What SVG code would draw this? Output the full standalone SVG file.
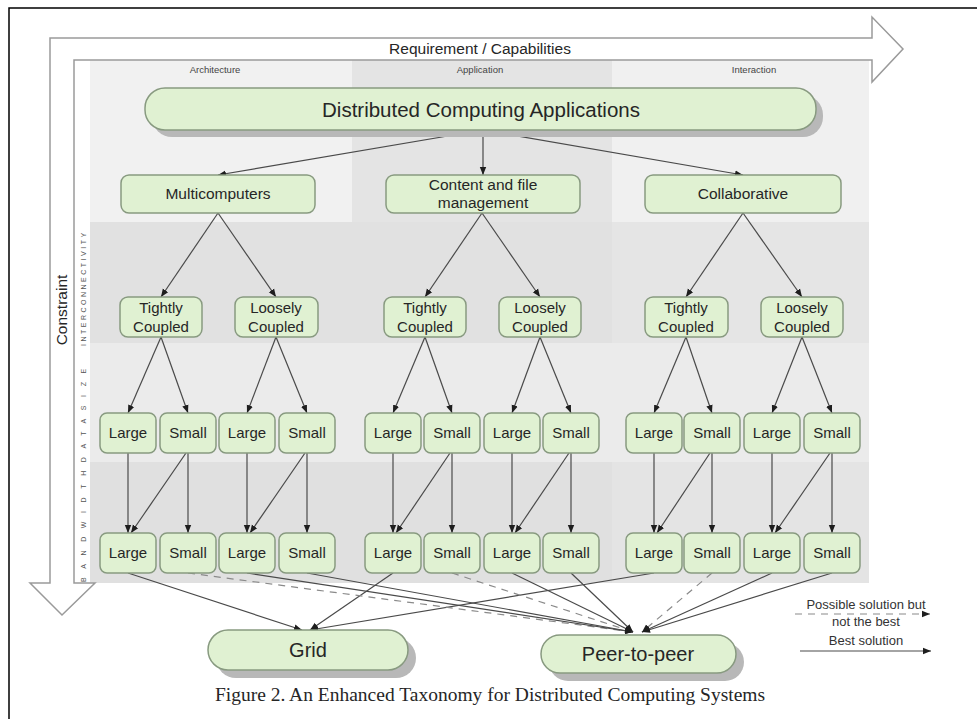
<svg xmlns="http://www.w3.org/2000/svg" width="977" height="719" viewBox="0 0 977 719">
<style>
text{font-family:"Liberation Sans",Arial,sans-serif;fill:#262626}
.nd{fill:#e0f1d2;stroke:#889a80;stroke-width:1.5}
.sh{fill:#b8b8b8}
.t16{font-size:15.5px;text-anchor:middle}
.t15{font-size:15px;text-anchor:middle}
.col{font-size:9.5px;text-anchor:middle;fill:#444}
.ln{stroke:#4a4a4a;stroke-width:1.2;fill:none;marker-end:url(#ah)}
.dl{stroke:#8a8a8a;stroke-width:1.2;fill:none;stroke-dasharray:7 6;marker-end:url(#ah)}
.ax{fill:#fff;stroke:#9a9a9a;stroke-width:1.5}
.rul{font-size:7px;fill:#555}
.lg{font-size:13px;text-anchor:middle;fill:#333}
</style>
<defs>
<marker id="ah" viewBox="0 0 10 10" refX="10" refY="5" markerWidth="8" markerHeight="8" markerUnits="userSpaceOnUse" orient="auto">
<path d="M0,1 L10,5 L0,9 Z" fill="#1e1e1e"/>
</marker>
</defs>
<rect width="977" height="719" fill="#fff"/>
<path d="M9,719 V8 H977" fill="none" stroke="#000" stroke-width="1.5"/>
<g id="background">
<rect x="90" y="60" width="779" height="523" fill="#e9e9e9"/>
<rect x="90" y="60" width="262" height="162" fill="#f1f1f1"/>
<rect x="352" y="60" width="260" height="162" fill="#e4e4e4"/>
<rect x="612" y="60" width="257" height="162" fill="#f0f0f0"/>
<rect x="90" y="222" width="779" height="121" fill="#e1e1e1"/>
<rect x="612" y="222" width="257" height="121" fill="#e5e5e5"/>
<rect x="90" y="343" width="779" height="119" fill="#ebebeb"/>
<rect x="90" y="462" width="779" height="121" fill="#e0e0e0"/>
<rect x="612" y="462" width="257" height="121" fill="#e4e4e4"/>
</g>
<g id="axes">
<path class="ax" d="M50,38 H872 V17 L903,49 L872,82 V60 H74 V583 H95 L62,615 L30,583 H50 Z"/>
<text x="480" y="54" font-size="15.5" text-anchor="middle">Requirement / Capabilities</text>
<text transform="translate(67,310) rotate(-90)" font-size="15.5" text-anchor="middle" fill="#444">Constraint</text>
<text class="rul" transform="translate(86,582) rotate(-90)" letter-spacing="8.6">BANDWIDTHDATASIZE</text>
<text class="rul" transform="translate(86,346) rotate(-90)" letter-spacing="2.5">INTERCONNECTIVITY</text>
<text class="col" x="215" y="73">Architecture</text>
<text class="col" x="480" y="73">Application</text>
<text class="col" x="754" y="73">Interaction</text>
</g>
<g id="connectors">
<path class="ln" d="M483,130 L218,175"/>
<path class="ln" d="M483,130 L483,175"/>
<path class="ln" d="M483,130 L743,175"/>
<path class="ln" d="M218,213 L161,297"/>
<path class="ln" d="M218,213 L276,297"/>
<path class="ln" d="M482,213 L425,297"/>
<path class="ln" d="M482,213 L540,297"/>
<path class="ln" d="M743,213 L686,297"/>
<path class="ln" d="M743,213 L802,297"/>
<path class="ln" d="M161,337 L128,413"/>
<path class="ln" d="M161,337 L188,413"/>
<path class="ln" d="M276,337 L247,413"/>
<path class="ln" d="M276,337 L307,413"/>
<path class="ln" d="M425,337 L393,413"/>
<path class="ln" d="M425,337 L452,413"/>
<path class="ln" d="M540,337 L512,413"/>
<path class="ln" d="M540,337 L571,413"/>
<path class="ln" d="M686,337 L654,413"/>
<path class="ln" d="M686,337 L712,413"/>
<path class="ln" d="M802,337 L772,413"/>
<path class="ln" d="M802,337 L832,413"/>
<path class="ln" d="M128,453 V533"/><path class="ln" d="M188,453 V533"/><path class="ln" d="M186,453 L131,533"/>
<path class="ln" d="M247,453 V533"/><path class="ln" d="M307,453 V533"/><path class="ln" d="M305,453 L250,533"/>
<path class="ln" d="M393,453 V533"/><path class="ln" d="M452,453 V533"/><path class="ln" d="M450,453 L396,533"/>
<path class="ln" d="M512,453 V533"/><path class="ln" d="M571,453 V533"/><path class="ln" d="M569,453 L515,533"/>
<path class="ln" d="M654,453 V533"/><path class="ln" d="M712,453 V533"/><path class="ln" d="M710,453 L657,533"/>
<path class="ln" d="M772,453 V533"/><path class="ln" d="M832,453 V533"/><path class="ln" d="M830,453 L775,533"/>
<path class="ln" d="M128,573 L302,630"/>
<path class="ln" d="M393,573 L310,630"/>
<path class="ln" d="M654,573 L310,630"/>
<path class="dl" d="M188,573 L633,632"/>
<path class="ln" d="M247,573 L633,632"/>
<path class="ln" d="M307,573 L633,632"/>
<path class="dl" d="M452,573 L633,632"/>
<path class="ln" d="M512,573 L633,632"/>
<path class="ln" d="M571,573 L633,632"/>
<path class="dl" d="M712,573 L642,632"/>
<path class="ln" d="M772,573 L642,632"/>
<path class="ln" d="M832,573 L642,632"/>
</g>
<g id="n-dca"><rect class="sh" x="152" y="95" width="671" height="42" rx="20"/><rect class="nd" x="145" y="88" width="671" height="42" rx="20"/><text x="481" y="117" font-size="20.5" text-anchor="middle">Distributed Computing Applications</text></g>
<g id="n-multi"><rect class="nd" x="121" y="175" width="194" height="38" rx="8"/><text class="t16" x="218" y="199">Multicomputers</text></g>
<g id="n-content"><rect class="nd" x="386" y="175" width="194" height="38" rx="8"/><text class="t16" x="483" y="190">Content and file</text><text class="t16" x="483" y="208">management</text></g>
<g id="n-collab"><rect class="nd" x="645" y="175" width="196" height="38" rx="8"/><text class="t16" x="743" y="199">Collaborative</text></g>
<g id="n-m-tight"><rect class="nd" x="120" y="297" width="82" height="40" rx="8"/><text class="t15" x="161" y="313">Tightly</text><text class="t15" x="161" y="332">Coupled</text></g>
<g id="n-m-loose"><rect class="nd" x="235" y="297" width="83" height="40" rx="8"/><text class="t15" x="276" y="313">Loosely</text><text class="t15" x="276" y="332">Coupled</text></g>
<g id="n-c-tight"><rect class="nd" x="384" y="297" width="82" height="40" rx="8"/><text class="t15" x="425" y="313">Tightly</text><text class="t15" x="425" y="332">Coupled</text></g>
<g id="n-c-loose"><rect class="nd" x="499" y="297" width="82" height="40" rx="8"/><text class="t15" x="540" y="313">Loosely</text><text class="t15" x="540" y="332">Coupled</text></g>
<g id="n-o-tight"><rect class="nd" x="645" y="297" width="83" height="40" rx="8"/><text class="t15" x="686" y="313">Tightly</text><text class="t15" x="686" y="332">Coupled</text></g>
<g id="n-o-loose"><rect class="nd" x="761" y="297" width="82" height="40" rx="8"/><text class="t15" x="802" y="313">Loosely</text><text class="t15" x="802" y="332">Coupled</text></g>
<g id="n-r3-1"><rect class="nd" x="100" y="413" width="56" height="40" rx="7"/><text class="t15" x="128" y="438">Large</text></g>
<g id="n-r3-2"><rect class="nd" x="160" y="413" width="56" height="40" rx="7"/><text class="t15" x="188" y="438">Small</text></g>
<g id="n-r3-3"><rect class="nd" x="219" y="413" width="56" height="40" rx="7"/><text class="t15" x="247" y="438">Large</text></g>
<g id="n-r3-4"><rect class="nd" x="279" y="413" width="56" height="40" rx="7"/><text class="t15" x="307" y="438">Small</text></g>
<g id="n-r3-5"><rect class="nd" x="365" y="413" width="56" height="40" rx="7"/><text class="t15" x="393" y="438">Large</text></g>
<g id="n-r3-6"><rect class="nd" x="424" y="413" width="56" height="40" rx="7"/><text class="t15" x="452" y="438">Small</text></g>
<g id="n-r3-7"><rect class="nd" x="484" y="413" width="56" height="40" rx="7"/><text class="t15" x="512" y="438">Large</text></g>
<g id="n-r3-8"><rect class="nd" x="543" y="413" width="56" height="40" rx="7"/><text class="t15" x="571" y="438">Small</text></g>
<g id="n-r3-9"><rect class="nd" x="626" y="413" width="56" height="40" rx="7"/><text class="t15" x="654" y="438">Large</text></g>
<g id="n-r3-10"><rect class="nd" x="684" y="413" width="56" height="40" rx="7"/><text class="t15" x="712" y="438">Small</text></g>
<g id="n-r3-11"><rect class="nd" x="744" y="413" width="56" height="40" rx="7"/><text class="t15" x="772" y="438">Large</text></g>
<g id="n-r3-12"><rect class="nd" x="804" y="413" width="56" height="40" rx="7"/><text class="t15" x="832" y="438">Small</text></g>
<g id="n-r4-1"><rect class="nd" x="100" y="533" width="56" height="40" rx="7"/><text class="t15" x="128" y="558">Large</text></g>
<g id="n-r4-2"><rect class="nd" x="160" y="533" width="56" height="40" rx="7"/><text class="t15" x="188" y="558">Small</text></g>
<g id="n-r4-3"><rect class="nd" x="219" y="533" width="56" height="40" rx="7"/><text class="t15" x="247" y="558">Large</text></g>
<g id="n-r4-4"><rect class="nd" x="279" y="533" width="56" height="40" rx="7"/><text class="t15" x="307" y="558">Small</text></g>
<g id="n-r4-5"><rect class="nd" x="365" y="533" width="56" height="40" rx="7"/><text class="t15" x="393" y="558">Large</text></g>
<g id="n-r4-6"><rect class="nd" x="424" y="533" width="56" height="40" rx="7"/><text class="t15" x="452" y="558">Small</text></g>
<g id="n-r4-7"><rect class="nd" x="484" y="533" width="56" height="40" rx="7"/><text class="t15" x="512" y="558">Large</text></g>
<g id="n-r4-8"><rect class="nd" x="543" y="533" width="56" height="40" rx="7"/><text class="t15" x="571" y="558">Small</text></g>
<g id="n-r4-9"><rect class="nd" x="626" y="533" width="56" height="40" rx="7"/><text class="t15" x="654" y="558">Large</text></g>
<g id="n-r4-10"><rect class="nd" x="684" y="533" width="56" height="40" rx="7"/><text class="t15" x="712" y="558">Small</text></g>
<g id="n-r4-11"><rect class="nd" x="744" y="533" width="56" height="40" rx="7"/><text class="t15" x="772" y="558">Large</text></g>
<g id="n-r4-12"><rect class="nd" x="804" y="533" width="56" height="40" rx="7"/><text class="t15" x="832" y="558">Small</text></g>
<g id="n-grid"><rect class="sh" x="216" y="638" width="200" height="40" rx="20"/><rect class="nd" x="208" y="630" width="200" height="40" rx="20"/><text x="308" y="657" font-size="20" text-anchor="middle">Grid</text></g>
<g id="n-p2p"><rect class="sh" x="549" y="643" width="195" height="38" rx="19"/><rect class="nd" x="541" y="635" width="195" height="38" rx="19"/><text x="638" y="661" font-size="20" text-anchor="middle">Peer-to-peer</text></g>
<g id="legend">
<text class="lg" x="866" y="609">Possible solution but</text>
<path class="dl" d="M795,614 L930,614" stroke-dasharray="5 6"/>
<text class="lg" x="866" y="626">not the best</text>
<text class="lg" x="866" y="645">Best solution</text>
<path class="ln" d="M800,651 L931,651"/>
</g>
<text x="490" y="701" font-size="19.5" text-anchor="middle" fill="#111" style="font-family:'Liberation Serif','Times New Roman',serif">Figure 2. An Enhanced Taxonomy for Distributed Computing Systems</text>
</svg>
